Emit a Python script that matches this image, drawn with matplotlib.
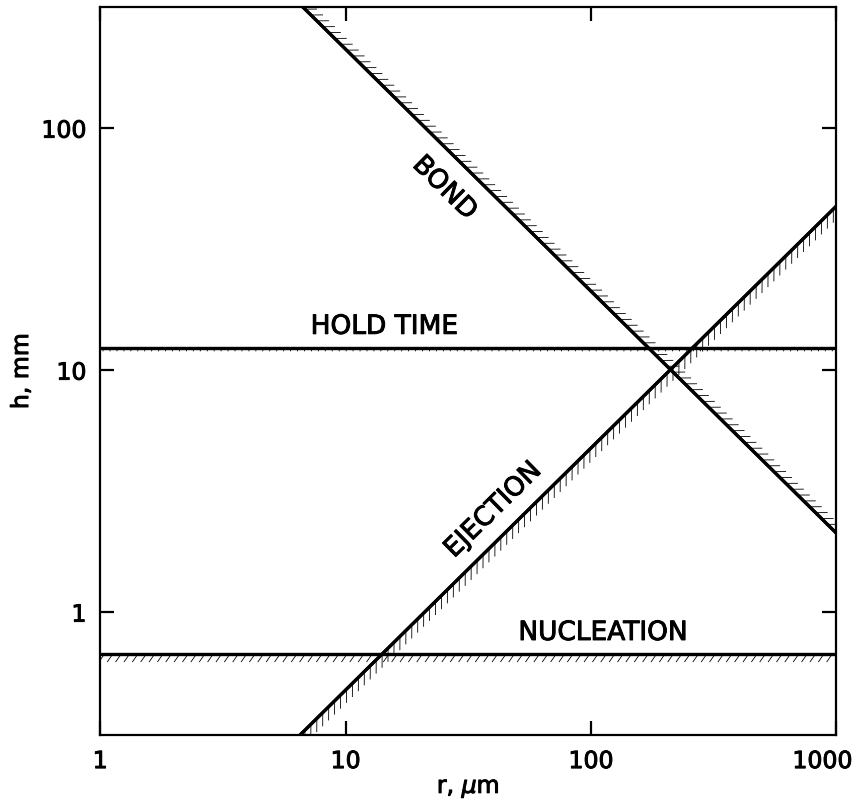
import numpy as np
import matplotlib
matplotlib.use("Agg")
import matplotlib.pyplot as plt
import matplotlib.patheffects as pe
import matplotlib.transforms as mtransforms

# Dados (escala log-log)
r_lim = [1, 1000]            # r, um
h_lim = [0.31, 316]          # h, mm
bond_const = 2120            # BOND: h = C / r
ejection_const = 21.0        # EJECTION: h = r / k
hold_time_h = 12.4           # HOLD TIME (horizontal)
nucleation_h = 0.67          # NUCLEATION (horizontal)

x_ticks = [1, 10, 100, 1000]
y_ticks = [1, 10, 100]

# posições dos rótulos (coordenadas de dados)
label_names = ["BOND", "EJECTION", "HOLD TIME", "NUCLEATION"]
label_r = [25.3, 40, 14.4, 112]
label_h = [56.5, 2.64, 15.1, 0.82]

plt.rcParams['font.family'] = ['DejaVu Sans']

fig = plt.figure(figsize=(8.56, 8.0), dpi=100)
ax = fig.add_axes([0.117, 0.081, 0.860, 0.910])
ax.set_xscale("log")
ax.set_yscale("log")
ax.set_xlim(*r_lim)
ax.set_ylim(*h_lim)

r = np.logspace(0, 3, 400)
lw = 2.3

def hachura(spacing, angle, length):
    return [pe.withTickedStroke(spacing=spacing, angle=angle, length=length,
                                linewidth=0.6), pe.Normal()]

ax.plot(r, bond_const / r, color="black", lw=lw,
        path_effects=hachura(6, 45, 1.4))
ax.plot(r, r / ejection_const, color="black", lw=lw,
        path_effects=hachura(6, -135, 1.6))
ax.plot(r, np.full_like(r, hold_time_h), color="black", lw=lw,
        path_effects=hachura(5, -100, 0.5))
ax.plot(r, np.full_like(r, nucleation_h), color="black", lw=lw,
        path_effects=hachura(6, -125, 1.1))

# texto um pouco mais "grosso", como no original
negrito = [pe.withStroke(linewidth=0.7, foreground="black")]

# rótulos das curvas
rotations = [-44.5, 44.5, 0, 0]
for name, rx, hy, rot in zip(label_names, label_r, label_h, rotations):
    ax.text(rx, hy, name, fontsize=19, rotation=rot, ha="center", va="center",
            rotation_mode="anchor", path_effects=negrito)

ax.set_xticks(x_ticks)
ax.set_xticklabels([str(t) for t in x_ticks])
ax.set_yticks(y_ticks)
ax.set_yticklabels([str(t) for t in y_ticks])
ax.minorticks_off()
ax.tick_params(which="major", direction="in", length=10, width=1.6,
               top=True, right=True, labelsize=17, pad=10)

for lab in ax.get_xticklabels() + ax.get_yticklabels():
    lab.set_path_effects(negrito)

# "1000" empurrado para dentro da figura
desloc = mtransforms.ScaledTranslation(-14 / 100, 0, fig.dpi_scale_trans)
ultimo = ax.get_xticklabels()[-1]
ultimo.set_transform(ultimo.get_transform() + desloc)

for s in ax.spines.values():
    s.set_linewidth(1.6)

ax.set_xlabel(r"r, $\mu$m", fontsize=17, labelpad=2, path_effects=negrito)
ax.set_ylabel("h, mm", fontsize=17, labelpad=6, path_effects=negrito)

fig.savefig("out.png", dpi=100)
